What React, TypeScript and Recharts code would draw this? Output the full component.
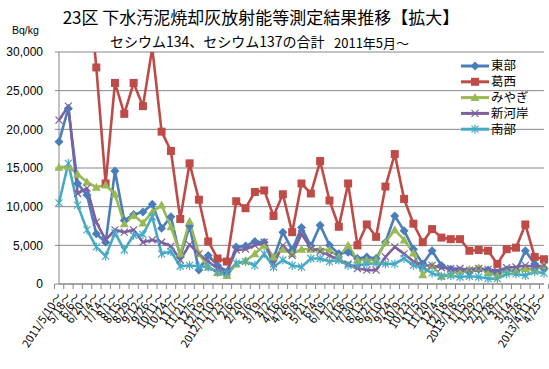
import { LineChart, Line, XAxis, YAxis, CartesianGrid, Legend } from 'recharts'

const W = 549
const H = 369
const PLOT_LEFT = 59
const PLOT_RIGHT = 544
const PLOT_TOP = 52
const PLOT_BOTTOM = 284
const AXIS = '#868686'
const NUM_FONT = '"Liberation Sans", Arial, sans-serif'
const JP_FONT = '"Noto Sans CJK JP", "Noto Sans", sans-serif'

const dates = [
  '2011/5/10～', '5/18～', '6/6～', '6/20～', '7/4～', '7/14～', '8/1～', '8/15～', '8/29～',
  '9/12～', '9/26～', '10/11～', '10/24～', '11/7～', '11/21～', '12/5～', '12/19～',
  '2012/1/10～', '1/23～', '2/6～', '2/20～', '3/6～', '3/19～', '4/2～', '4/16～', '4/26～',
  '5/8～', '5/21～', '6/4～', '6/19～', '7/2～', '7/18～', '7/30～', '8/13～', '8/27～',
  '9/10～', '9/24～', '10/9～', '10/23～', '11/5～', '11/20～', '12/4～', '12/18～',
  '2013/1/8～', '1/15～', '1/29～', '2/12～', '2/28～', '3/7～', '3/14～', '3/28～',
  '2013/4/11～', '4/25～',
]

const toubu = [
  18400, 22700, 13000, 11500, 6500, 5400, 14600, 8200, 9000, 9300, 10300, 7200, 8700, 3500,
  7500, 1800, 3700, 2400, 1600, 4800, 4900, 5500, 5400, 3300, 6700, 4400, 7300, 4900, 7600,
  5000, 3900, 4100, 3300, 3500, 3300, 5400, 8800, 6900, 4500, 2600, 4300, 2400, 1900, 1700,
  1600, 1900, 1800, 1400, 1800, 1600, 4300, 2600, 2000,
]
const kasai = [
  55000, 48000, 60000, 41000, 28000, 13000, 26000, 22000, 26000, 23000, 30500, 19700, 17200,
  8400, 15600, 10900, 5500, 3300, 2900, 10700, 9800, 11900, 12100, 8800, 11600, 6700, 13000,
  11700, 15900, 10800, 7400, 13000, 5000, 7700, 6100, 12600, 16800, 11000, 7800, 5400, 7100,
  6000, 5800, 5800, 4300, 4400, 4300, 2600, 4500, 4700, 7700, 3500, 3200,
]
const miyagi = [
  15100, 15200, 14200, 13200, 12500, 12800, 11600, 7800, 8900, 7900, 9300, 10200, 7400, 3900,
  8100, 3900, 2200, 1500, 1100, 2600, 3000, 3900, 5000, 3500, 4500, 3900, 4500, 4500, 4500,
  4400, 3500, 5000, 3100, 3100, 3100, 5400, 7000, 5700, 4000, 1200, 2400, 1000, 1300, 1700,
  1900, 2100, 1500, 1100, 1800, 1700, 2000, 1800, 2400,
]
const shingashi = [
  21200, 23000, 11700, 12400, 8000, 5700, 7000, 6700, 7000, 5400, 5700, 5400, 4900, 3100,
  5100, 3900, 2900, 2000, 1600, 4400, 4500, 5000, 5400, 2600, 5000, 3700, 6500, 4600, 4200,
  3700, 3100, 2600, 2000, 1800, 1800, 3500, 4800, 3900, 2900, 2400, 2400, 2100, 2000, 2000,
  1800, 2000, 1900, 1700, 2100, 2200, 2400, 2200, 2400,
]
const nanbu = [
  10500, 15600, 10200, 7000, 4800, 3600, 6600, 4400, 6300, 6400, 8700, 3900, 4200, 2300,
  2400, 2300, 2200, 1500, 1400, 2700, 2900, 2400, 3900, 2200, 3100, 2400, 2200, 3300, 3300,
  2900, 3100, 2400, 2400, 2600, 2700, 2600, 2600, 3300, 2400, 2100, 1400, 1000, 1100, 900,
  1000, 900, 700, 700, 1300, 1300, 1100, 1600, 1400,
]

const yTicks = [0, 5000, 10000, 15000, 20000, 25000, 30000]

const SERIES = [
  { key: '東部', values: toubu, color: '#4A7EBB', marker: 'diamond' },
  { key: '葛西', values: kasai, color: '#BE4B48', marker: 'square' },
  { key: 'みやぎ', values: miyagi, color: '#98B954', marker: 'triangle' },
  { key: '新河岸', values: shingashi, color: '#7D60A0', marker: 'x' },
  { key: '南部', values: nanbu, color: '#46AAC5', marker: 'star' },
]

const data = dates.map((date, i) => {
  const row: Record<string, string | number> = { date }
  SERIES.forEach((s) => { row[s.key] = s.values[i] })
  return row
})

function Marker({ shape, cx, cy, color }: { shape: string; cx: number; cy: number; color: string }) {
  if (shape === 'diamond') {
    return <polygon points={`${cx},${cy - 4.5} ${cx + 4.5},${cy} ${cx},${cy + 4.5} ${cx - 4.5},${cy}`} fill={color} />
  }
  if (shape === 'square') {
    return <rect x={cx - 4} y={cy - 4} width={8} height={8} fill={color} />
  }
  if (shape === 'triangle') {
    return <polygon points={`${cx},${cy - 4.5} ${cx + 4.5},${cy + 3.5} ${cx - 4.5},${cy + 3.5}`} fill={color} />
  }
  const r = 3.5
  return (
    <g stroke={color} strokeWidth={1.2}>
      <line x1={cx - r} y1={cy - r} x2={cx + r} y2={cy + r} />
      <line x1={cx - r} y1={cy + r} x2={cx + r} y2={cy - r} />
      {shape === 'star' && <line x1={cx} y1={cy - r - 1} x2={cx} y2={cy + r + 1} />}
    </g>
  )
}

// Excel puts category ticks between the points, so shift them half a step
function XTick(props: any) {
  const { x, payload, index } = props
  const step = (PLOT_RIGHT - PLOT_LEFT) / dates.length
  const ty = PLOT_BOTTOM + 10
  return (
    <g>
      <line x1={x - step / 2} x2={x - step / 2} y1={PLOT_BOTTOM} y2={PLOT_BOTTOM + 5} stroke={AXIS} />
      {index === dates.length - 1 && (
        <line x1={x + step / 2} x2={x + step / 2} y1={PLOT_BOTTOM} y2={PLOT_BOTTOM + 5} stroke={AXIS} />
      )}
      <text
        x={x}
        y={ty}
        dy="0.35em"
        textAnchor="end"
        transform={`rotate(-57, ${x}, ${ty})`}
        fontSize={11}
        fontFamily={JP_FONT}
        fill="#000"
      >
        {payload.value}
      </text>
    </g>
  )
}

function LegendBox() {
  return (
    <svg width={90} height={90} style={{ display: 'block', overflow: 'visible' }}>
      {SERIES.map((s, i) => {
        const y = 12 + i * 15.8
        return (
          <g key={s.key}>
            <line x1={2} x2={30} y1={y} y2={y} stroke={s.color} strokeWidth={3} />
            <Marker shape={s.marker} cx={16} cy={y} color={s.color} />
            <text x={32} y={y} dy="0.35em" fontSize={12.5} fontFamily={JP_FONT} fill="#000">{s.key}</text>
          </g>
        )
      })}
    </svg>
  )
}

export default function App() {
  return (
    <div style={{ position: 'absolute', left: 0, top: 0, width: W, height: H, background: '#fff' }}>
      <LineChart
        width={W}
        height={H}
        data={data}
        margin={{ top: PLOT_TOP, right: W - PLOT_RIGHT, left: 0, bottom: 0 }}
      >
        <CartesianGrid vertical={false} stroke={AXIS} strokeWidth={1} />
        <XAxis
          dataKey="date"
          interval={0}
          height={H - PLOT_BOTTOM}
          stroke={AXIS}
          tickLine={false}
          tick={<XTick />}
        />
        <YAxis
          domain={[0, 30000]}
          ticks={yTicks}
          allowDataOverflow
          width={PLOT_LEFT}
          stroke={AXIS}
          tickSize={4}
          tickMargin={12}
          tickFormatter={(v: number) => v.toLocaleString('en-US')}
          tick={{ fill: '#000', fontSize: 12, fontFamily: NUM_FONT }}
        />
        {SERIES.map((s) => (
          <Line
            key={s.key}
            dataKey={s.key}
            stroke={s.color}
            strokeWidth={2.6}
            strokeLinejoin="round"
            isAnimationActive={false}
            activeDot={false}
            dot={(p: any) => (
              <Marker key={`${s.key}-${p.index}`} shape={s.marker} cx={p.cx} cy={p.cy} color={s.color} />
            )}
          />
        ))}
        <Legend
          layout="vertical"
          align="center"
          verticalAlign="middle"
          wrapperStyle={{ left: 459, top: 54, width: 90, height: 90 }}
          content={() => <LegendBox />}
        />
      </LineChart>
      <svg width={W} height={H} style={{ position: 'absolute', left: 0, top: 0, pointerEvents: 'none' }}>
        <text x={261} y={18} dy="0.35em" textAnchor="middle" fontSize={17} fontFamily={JP_FONT} fill="#000">
          23区 下水汚泥焼却灰放射能等測定結果推移【拡大】
        </text>
        <text x={110} y={42} dy="0.35em" fontSize={14} fontFamily={JP_FONT} fill="#000">
          セシウム134、セシウム137の合計
        </text>
        <text x={334} y={43} dy="0.35em" fontSize={13} fontFamily={JP_FONT} fill="#000">
          2011年5月～
        </text>
        <text x={12} y={30} dy="0.35em" fontSize={10.5} fontFamily={NUM_FONT} fill="#000">
          Bq/kg
        </text>
      </svg>
    </div>
  )
}
